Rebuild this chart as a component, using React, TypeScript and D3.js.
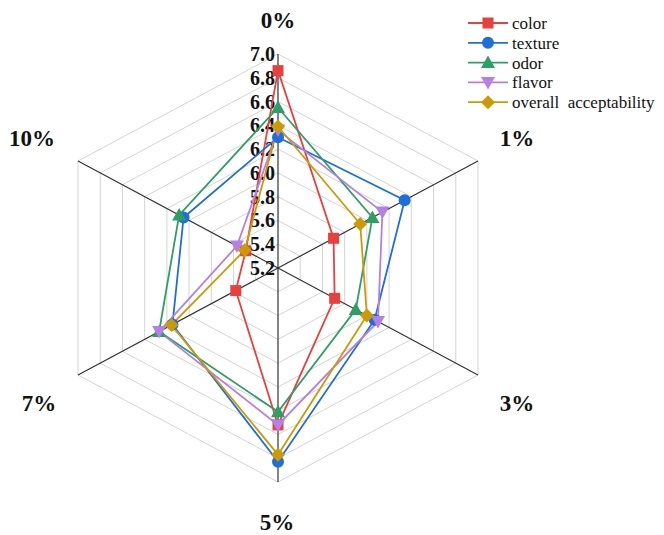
import React from "react";
import * as d3 from "d3";

const categories = ["0%", "1%", "3%", "5%", "7%", "10%"];
const seriesNames = ["color", "texture", "odor", "flavor", "overall\u00A0 acceptability"];
const colorVals = [6.86, 5.70, 5.71, 6.52, 5.58, 5.49];
const textureVals = [6.30, 6.34, 6.07, 6.83, 6.15, 6.05];
const odorVals = [6.55, 6.05, 5.90, 6.41, 6.27, 6.09];
const flavorVals = [6.36, 6.14, 6.10, 6.52, 6.27, 5.57];
const overallVals = [6.39, 5.94, 6.00, 6.77, 6.16, 5.50];
const tickValues = [5.2, 5.4, 5.6, 5.8, 6.0, 6.2, 6.4, 6.6, 6.8, 7.0];
const colors = ["#e8403f", "#1e6fd9", "#2e9e66", "#b57fe8", "#cc9a06"];
const markers = ["square", "circle", "triangle", "triangleDown", "diamond"];

const W = 664, H = 535;
const cx = 278, cy = 268, R = 214, sx = 1.079;
const FONT = "Liberation Serif";

export default function App() {
  const rScale = d3.scaleLinear().domain([5.2, 7.0]).range([0, R]);
  const angle = d3.scaleLinear().domain([0, categories.length]).range([0, 2 * Math.PI]);
  const pt = (i: number, r: number): [number, number] => {
    const a = angle(i);
    return [cx + Math.sin(a) * r * sx, cy - Math.cos(a) * r];
  };
  const data = [colorVals, textureVals, odorVals, flavorVals, overallVals];
  const line = d3.line<[number, number]>().curve(d3.curveLinearClosed);

  const markerPath = (type: string, x: number, y: number, color: string, key: string) => {
    if (type === "square") return <rect key={key} x={x - 5.5} y={y - 5.5} width={11} height={11} fill={color} />;
    if (type === "circle") return <circle key={key} cx={x} cy={y} r={6} fill={color} />;
    if (type === "triangle") return <path key={key} d={`M${x},${y - 7}L${x + 7},${y + 5.5}L${x - 7},${y + 5.5}Z`} fill={color} />;
    if (type === "triangleDown") return <path key={key} d={`M${x},${y + 7}L${x + 7},${y - 5.5}L${x - 7},${y - 5.5}Z`} fill={color} />;
    return <path key={key} d={`M${x},${y - 7}L${x + 7},${y}L${x},${y + 7}L${x - 7},${y}Z`} fill={color} />;
  };

  const labelPos: [number, number][] = [[278, 20], [517, 138], [517, 403], [277, 522], [39, 403], [32, 138]];

  return (
    <svg width={W} height={H} style={{ position: "absolute", left: 0, top: 0, background: "#fff" }}>
      <rect width={W} height={H} fill="#fff" />
      {tickValues.slice(1).map((t) => (
        <path key={"g" + t} d={line(categories.map((_, i) => pt(i, rScale(t))))!} fill="none" stroke="#d4d4d4" strokeWidth={1} />
      ))}
      {categories.map((_, i) => {
        const [x, y] = pt(i, R);
        return <line key={"ax" + i} x1={cx} y1={cy} x2={x} y2={y} stroke="#333" strokeWidth={1.2} />;
      })}
      {tickValues.map((t) => (
        <text key={"t" + t} x={cx - 3} y={cy - rScale(t)} dy="0.35em" textAnchor="end" fontWeight="bold" fontSize={20} fill="#111" fontFamily={FONT}>
          {t.toFixed(1)}
        </text>
      ))}
      {data.map((vals, s) => (
        <path key={"s" + s} d={line(vals.map((v, i) => pt(i, rScale(v))))!} fill="none" stroke={colors[s]} strokeWidth={1.8} />
      ))}
      {data.map((vals, s) => (
        <g key={"m" + s}>{vals.map((v, i) => { const [x, y] = pt(i, rScale(v)); return markerPath(markers[s], x, y, colors[s], `${s}-${i}`); })}</g>
      ))}
      {categories.map((c, i) => (
        <text key={"c" + i} x={labelPos[i][0]} y={labelPos[i][1]} dy="0.35em" textAnchor="middle" fontWeight="bold" fontSize={23} fill="#111" fontFamily={FONT}>{c}</text>
      ))}
      {seriesNames.map((n, s) => {
        const y = 23 + s * 19.8;
        return (
          <g key={"l" + s}>
            <line x1={468} x2={508} y1={y} y2={y} stroke={colors[s]} strokeWidth={1.8} />
            {markerPath(markers[s], 488, y, colors[s], "lm" + s)}
            <text x={512} y={y} dy="0.35em" fontSize={17} fill="#111" fontFamily={FONT}>{n}</text>
          </g>
        );
      })}
    </svg>
  );
}
